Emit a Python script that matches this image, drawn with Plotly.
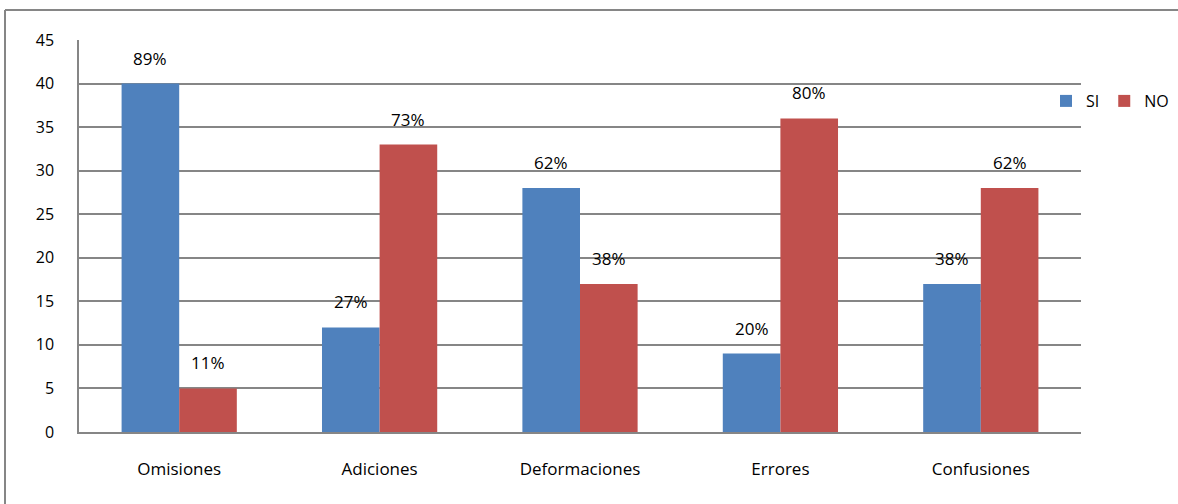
import plotly.graph_objects as go

categories = ["Omisiones", "Adiciones", "Deformaciones", "Errores", "Confusiones"]
si_values = [40, 12, 28, 9, 17]
no_values = [5, 33, 17, 36, 28]
si_labels = ["89%", "27%", "62%", "20%", "38%"]
no_labels = ["11%", "73%", "38%", "80%", "62%"]
y_ticks = [0, 5, 10, 15, 20, 25, 30, 35, 40, 45]

BLUE = "#4F81BD"
RED = "#C0504D"
GRID = "#868686"
FONT = "Open Sans"

W, H = 1178, 504
L, T, B = 79, 40, 72
PAPER_W = W - L          # right margin 0, domain shrinks the axis instead
PLOT_W = 1081 - L
PLOT_H = H - T - B

fig = go.Figure()
fig.add_trace(go.Bar(name="SI", x=categories, y=si_values, marker_color=BLUE,
                     marker_line_width=0))
fig.add_trace(go.Bar(name="NO", x=categories, y=no_values, marker_color=RED,
                     marker_line_width=0))

half = (1 - 0.425) / 4
for i, cat in enumerate(categories):
    fig.add_annotation(x=i - half, y=si_values[i], text=si_labels[i], xref="x", yref="y",
                       showarrow=False, yanchor="bottom", yshift=12,
                       font=dict(family=FONT, size=17, color="#000"))
    fig.add_annotation(x=i + half, y=no_values[i], text=no_labels[i], xref="x", yref="y",
                       showarrow=False, yanchor="bottom", yshift=12,
                       font=dict(family=FONT, size=17, color="#000"))

# Outer chart frame (left and top edges visible)
x0 = (5 - L) / PAPER_W
ytop = (T + PLOT_H - 10) / PLOT_H
fig.add_shape(type="line", xref="paper", yref="paper", x0=x0, x1=x0, y0=ytop, y1=-0.4,
              line=dict(color=GRID, width=2))
fig.add_shape(type="line", xref="paper", yref="paper", x0=x0, x1=1.2, y0=ytop, y1=ytop,
              line=dict(color=GRID, width=2))

fig.update_layout(
    width=W, height=H,
    margin=dict(l=L, r=0, t=T, b=B, pad=0),
    paper_bgcolor="white", plot_bgcolor="white",
    barmode="group", bargap=0.425, bargroupgap=0,
    font=dict(family=FONT, size=16, color="#000"),
    showlegend=True,
    legend=dict(orientation="h", x=(1174 - L) / PAPER_W, xanchor="right",
                y=(T + PLOT_H - 101) / PLOT_H, yanchor="middle",
                font=dict(family=FONT, size=16, color="#000"),
                itemwidth=30, bgcolor="rgba(0,0,0,0)", traceorder="normal"),
)
fig.update_xaxes(domain=[0, PLOT_W / PAPER_W], showgrid=False, showline=True,
                 linecolor=GRID, linewidth=1.5,
                 ticks="outside", ticklen=21, tickcolor="rgba(0,0,0,0)",
                 tickfont=dict(family=FONT, size=17))
fig.update_yaxes(range=[0, 45], tickvals=y_ticks, showgrid=True, gridcolor=GRID, gridwidth=1.5,
                 showline=True, linecolor=GRID, linewidth=1.5, zeroline=False,
                 ticks="outside", ticklen=20, tickcolor="rgba(0,0,0,0)",
                 tickfont=dict(family=FONT, size=16))

fig.write_html("out.html")
